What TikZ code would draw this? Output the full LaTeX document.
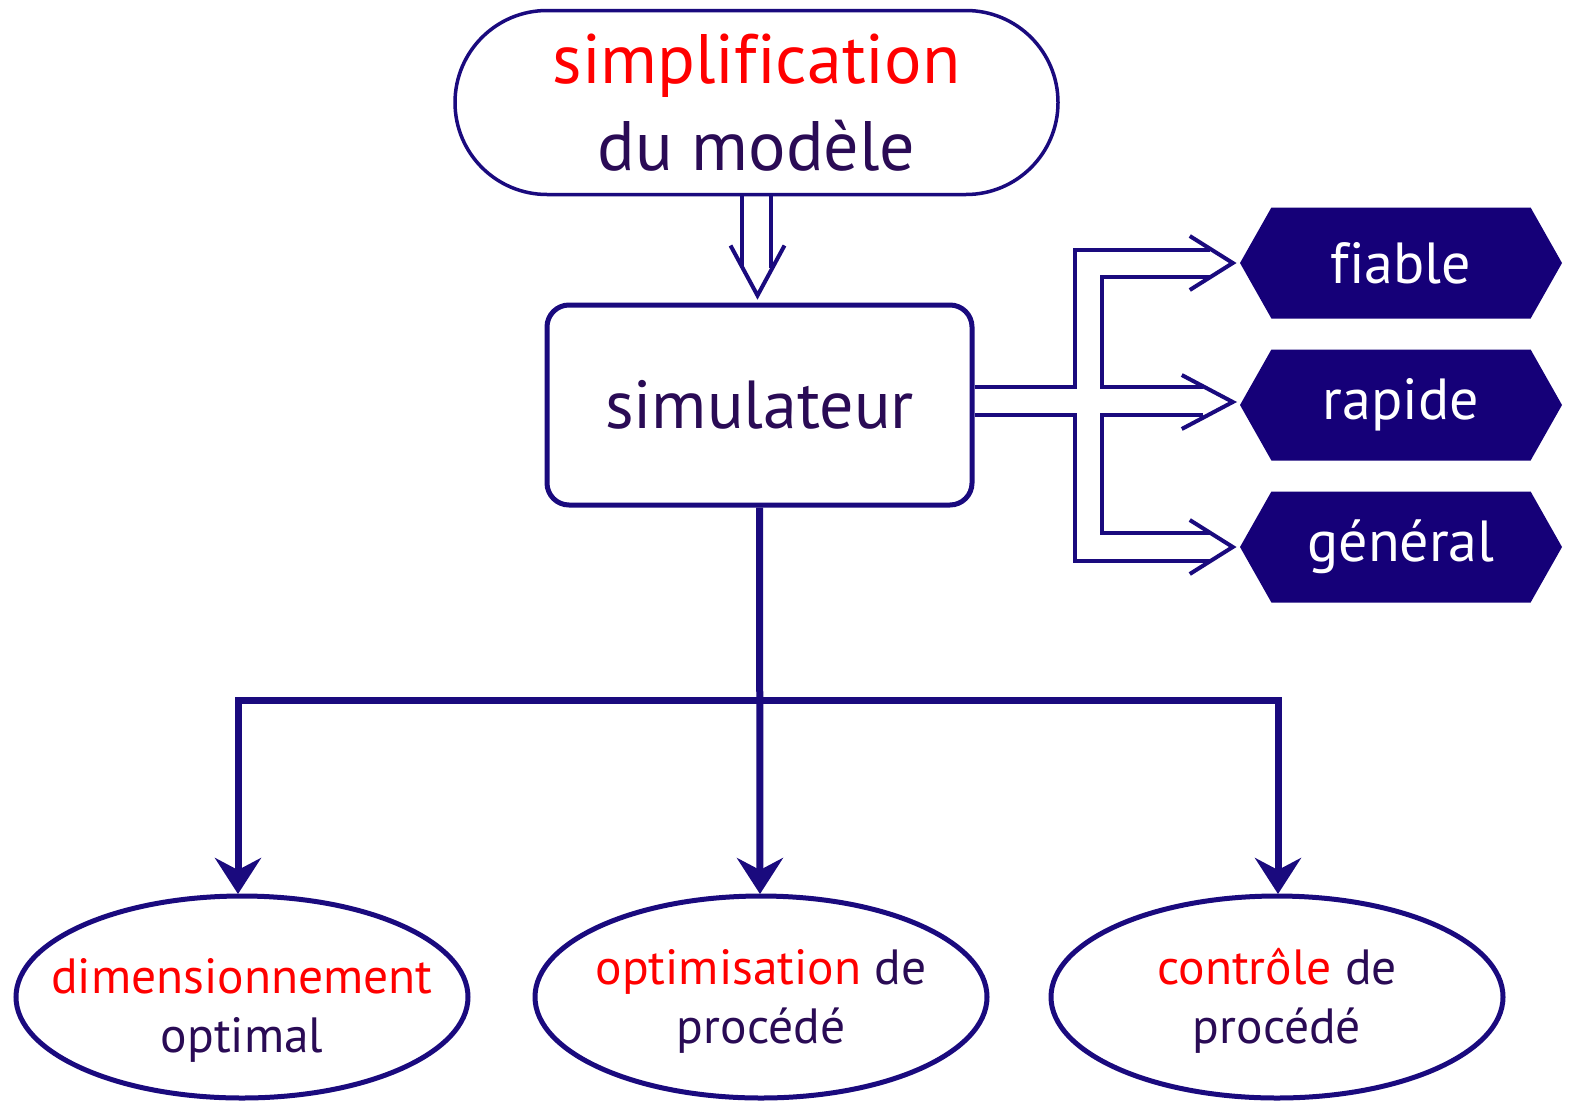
\documentclass[tikz,border=0pt]{standalone}
\usepackage{fontspec}
\setmainfont[Ligatures=CommonOff]{PT Sans}
\usetikzlibrary{arrows.meta,shapes.geometric,shapes.symbols,calc}
\definecolor{navy}{HTML}{1A0A7E}
\definecolor{ink}{HTML}{2A0B55}
\definecolor{hexfill}{HTML}{150078}
\definecolor{redtxt}{HTML}{FF0000}
\tikzset{
  hollow/.style={draw=navy,line width=4pt,line join=miter},
  mainline/.style={draw=navy,line width=7pt},
  bigtip/.style={-{Stealth[length=36pt,width=46pt,inset=12pt]}},
  hexbox/.style={shape=signal,signal to=west and east,signal pointer angle=121,
    fill=hexfill,draw=none,text=white,minimum width=322pt,minimum height=111pt,
    inner sep=0pt,font=\fontsize{58}{60}\selectfont},
  leaf/.style={ellipse,draw=navy,line width=5pt,minimum width=452pt,minimum height=202pt,
    inner sep=0pt},
  leaftext/.style={align=center,text=ink,inner sep=0pt,font=\fontsize{49.5}{59}\selectfont},
}
\begin{document}
\begin{tikzpicture}[x=1pt,y=-1pt]
\useasboundingbox (0,0) rectangle (1570,1100);
\fill[white] (0,0) rectangle (1570,1100);

% top box
\node[draw=navy,line width=3.5pt,rounded corners=92pt,minimum width=603pt,minimum height=184pt,
  align=center,text=ink,font=\fontsize{70}{87}\selectfont,text depth=0pt] (top) at (756.5,102.5)
  {\textcolor{redtxt}{simplification}\\du modèle};

% simulator box
\node[draw=navy,line width=5pt,rounded corners=22pt,minimum width=425pt,minimum height=200pt,
  text=ink,font=\fontsize{68}{80}\selectfont] (sim) at (759.5,405) {simulateur};

% hexagons
\node[hexbox] (fia) at (1401,263) {fiable};
\node[hexbox] (rap) at (1401,405) {rapide};
\node[hexbox] (gen) at (1401,547) {général};

% ellipses
\node[leaf,label={[leaftext,yshift=-13pt]center:\textcolor{redtxt}{dimensionnement}\\optimal}] (dim) at (242,997) {};
\node[leaf,label={[leaftext,yshift=-4pt]center:\textcolor{redtxt}{optimisation} de\\procédé}] (opt) at (761,997) {};
\node[leaf,label={[leaftext,yshift=-4pt]center:\textcolor{redtxt}{contrôle} de\\procédé}] (ctl) at (1277,997) {};

% double hollow arrow top -> sim
\draw[hollow] ($(top.south)+(-14.5,0)$) -- ++(0,72);
\draw[hollow] ($(top.south)+(14.5,0)$) -- ++(0,72);
\draw[hollow] ($(sim.north)+(-29,-57)$) -- ($(sim.north)+(-2,-7)$) -- ($(sim.north)+(25,-57)$);

% branching hollow arrows
\coordinate (e1) at (sim.east |- 0,387);
\coordinate (e2) at (sim.east |- 0,415);
\coordinate (t1) at ($(fia.west)+(-7,0)$);
\coordinate (t2) at ($(rap.west)+(-7,-3)$);
\coordinate (t3) at ($(gen.west)+(-7,0)$);
\draw[hollow] (e1) -- (1075,387) -- (1075,250) -- (1210,250);
\draw[hollow] (1210,277) -- (1102,277) -- (1102,387) -- (1203,387);
\draw[hollow] (1203,415) -- (1102,415) -- (1102,533) -- (1210,533);
\draw[hollow] (e2) -- (1075,415) -- (1075,561) -- (1210,561);
\draw[hollow] ($(t1)+(-43,-27)$) -- (t1) -- ($(t1)+(-43,27)$);
\draw[hollow] ($(t2)+(-51,-27)$) -- (t2) -- ($(t2)+(-51,27)$);
\draw[hollow] ($(t3)+(-43,-27)$) -- (t3) -- ($(t3)+(-43,27)$);

% tree
\coordinate (j) at (760,700);
\coordinate (jl) at (238,700);
\coordinate (jr) at (1278,700);
\coordinate (al) at (238,894);
\coordinate (ar) at (1278,894);
\coordinate (am) at (760,894);
\draw[mainline,bigtip] (sim.south) -- (am);
\draw[mainline,{Stealth[length=36pt,width=46pt,inset=12pt]}-{Stealth[length=36pt,width=46pt,inset=12pt]}]
  (al) -- (jl) -- (jr) -- (ar);
\end{tikzpicture}
\end{document}
